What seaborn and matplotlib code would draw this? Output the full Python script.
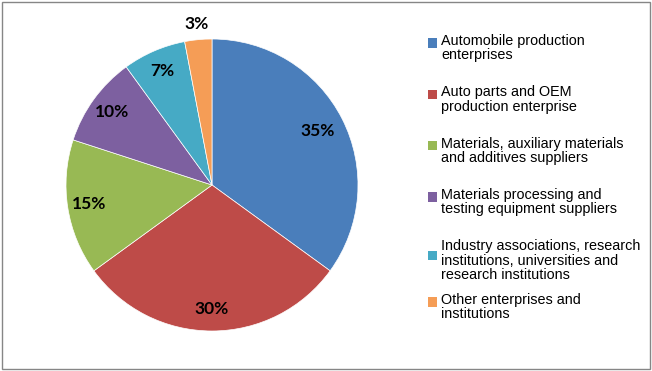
import matplotlib
matplotlib.use("Agg")
import matplotlib.pyplot as plt
import seaborn as sns
import numpy as np
from matplotlib.patches import Rectangle, Patch

sns.set_theme(style="white")
plt.rcParams['font.family'] = ['Liberation Sans', 'DejaVu Sans']

categories = [
    "Automobile production\nenterprises",
    "Auto parts and OEM\nproduction enterprise",
    "Materials, auxiliary materials\nand additives suppliers",
    "Materials processing and\ntesting equipment suppliers",
    "Industry associations, research\ninstitutions, universities and\nresearch institutions",
    "Other enterprises and\ninstitutions",
]
shares = [35, 30, 15, 10, 7, 3]
colors = ["#4A7EBB", "#BE4B48", "#98B954", "#7D60A0", "#46AAC5", "#F59D56"]

W, H = 652, 371
fig = plt.figure(figsize=(W / 100, H / 100), dpi=100)
fig.patch.set_facecolor("white")

cx, cy, r = 212, 185, 146
ax = fig.add_axes([(cx - r) / W, (H - cy - r) / H, 2 * r / W, 2 * r / H])
wedges, texts, autotexts = ax.pie(
    shares, colors=colors, startangle=90, counterclock=False,
    autopct=lambda p: f"{p:.0f}%", pctdistance=0.85,
    wedgeprops=dict(edgecolor="white", linewidth=0.5),
    textprops=dict(fontsize=12.5, fontweight="bold", color="black", family="Lato"),
)
ax.set_xlim(-1, 1)
ax.set_ylim(-1, 1)
ax.set_aspect("equal")

# Small slice label placed outside the pie (best fit)
w = wedges[-1]
ang = np.deg2rad((w.theta1 + w.theta2) / 2)
autotexts[-1].set_position((1.11 * np.cos(ang), 1.11 * np.sin(ang)))
# 35% slice label slightly inward
w0 = wedges[0]
ang0 = np.deg2rad((w0.theta1 + w0.theta2) / 2)
autotexts[0].set_position((0.81 * np.cos(ang0), 0.81 * np.sin(ang0)))

handles = [Patch(facecolor=c, edgecolor="none") for c in colors]
common = dict(frameon=False, fontsize=10.4, handlelength=0.6, handleheight=0.6,
              handletextpad=0.3, borderaxespad=0, borderpad=0)
leg1 = fig.legend(handles[:5], categories[:5], loc="upper left",
                  bbox_to_anchor=(428 / W, 1 - 34 / H), labelspacing=1.6, **common)
leg2 = fig.legend(handles[5:], categories[5:], loc="upper left",
                  bbox_to_anchor=(428 / W, 1 - 293 / H), **common)
for leg in (leg1, leg2):
    for t in leg.get_texts():
        t.set_linespacing(1.02)
        t.set_color("black")
    for h in leg.legend_handles:
        h.set_y(h.get_y() + 4)

fig.patches.append(Rectangle((1.5 / W, 2.5 / H), 648.5 / W, 367 / H,
                             transform=fig.transFigure, fill=False,
                             edgecolor="#868686", linewidth=1))

fig.savefig("out.png", dpi=100)
